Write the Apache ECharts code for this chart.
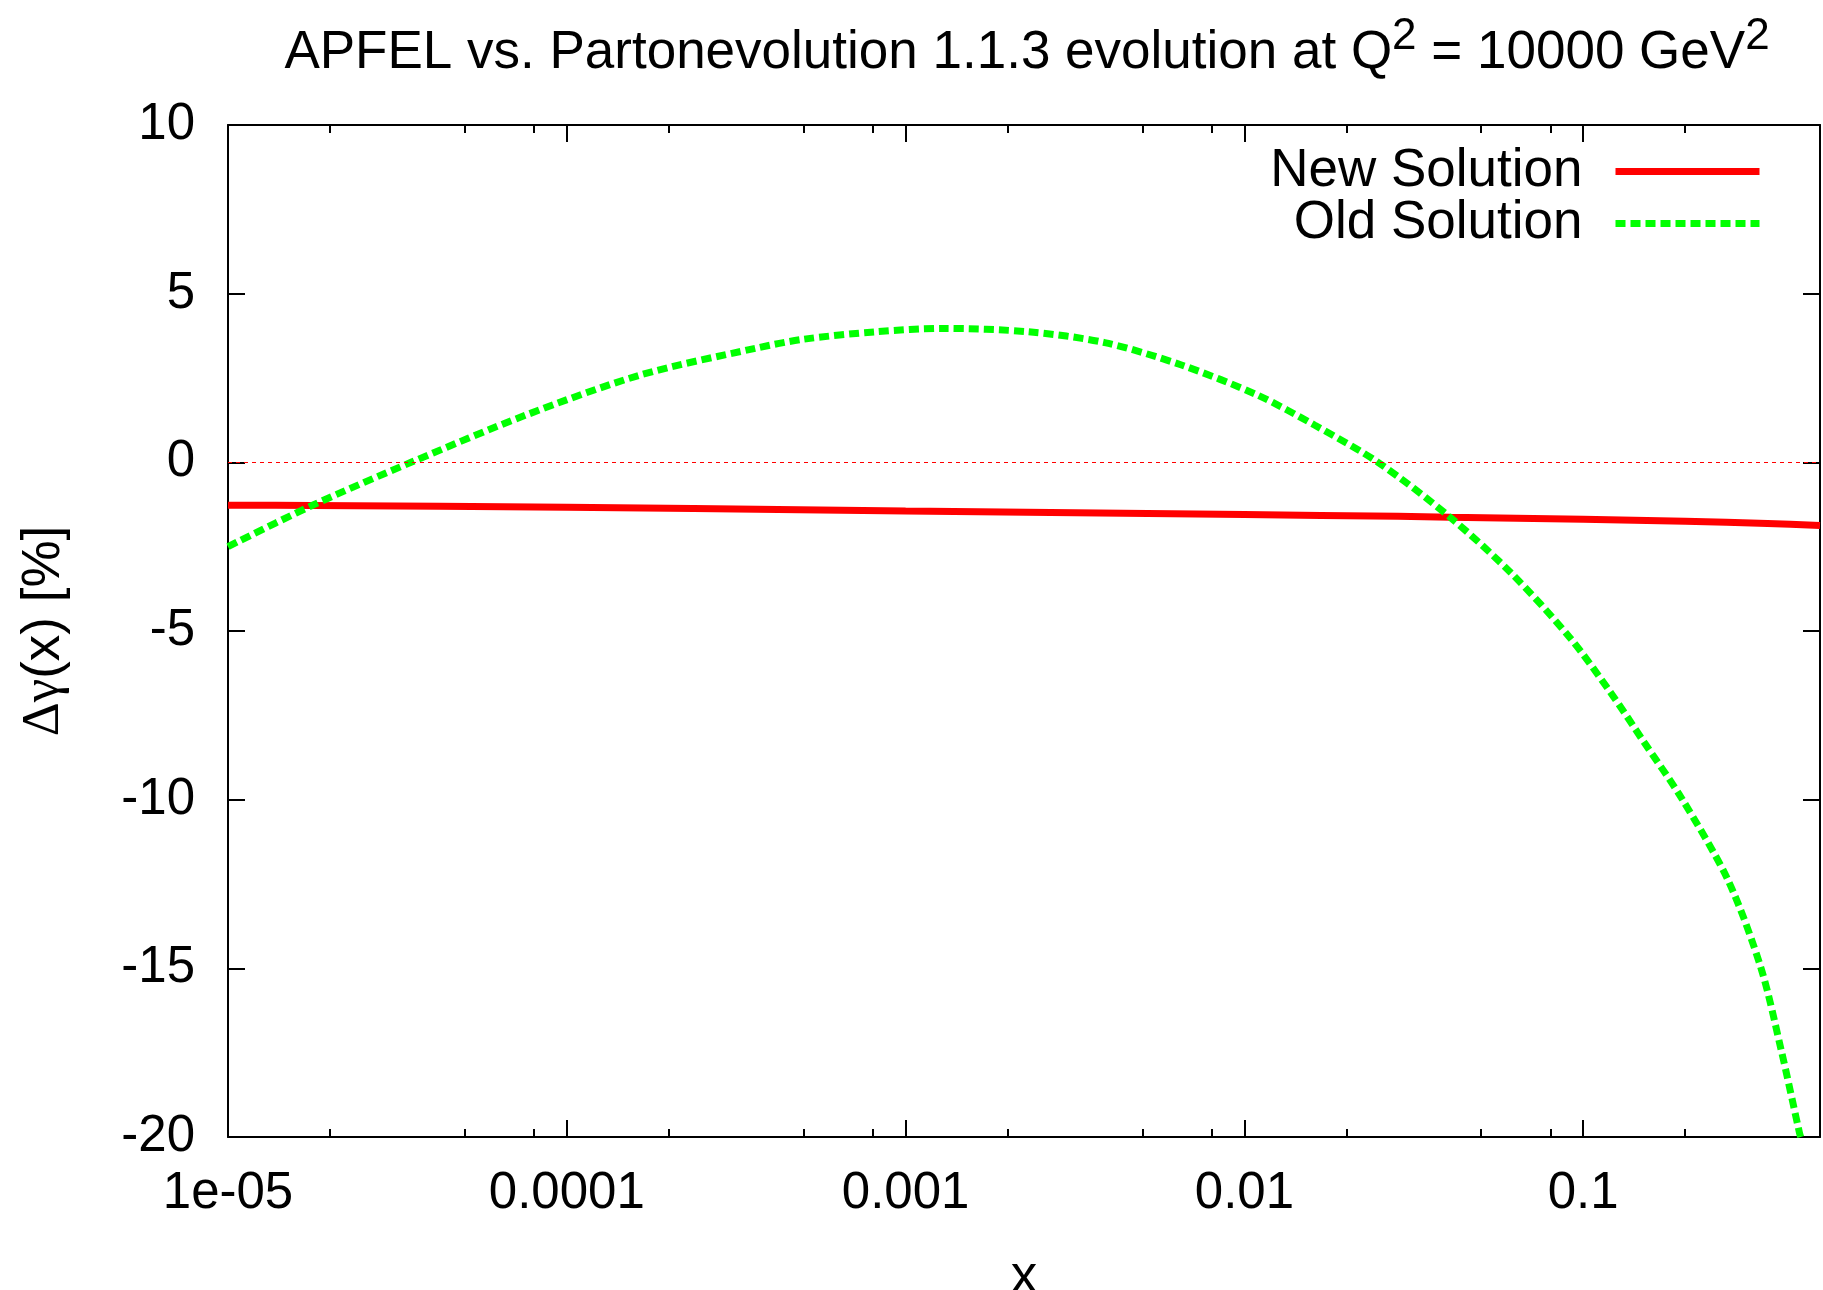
<!DOCTYPE html>
<html>
<head>
<meta charset="utf-8">
<title>APFEL vs. Partonevolution</title>
<script src="https://cdn.jsdelivr.net/npm/echarts@6/dist/echarts.min.js"></script>
<style>
  html, body { margin: 0; padding: 0; background: #ffffff; }
  #chart { width: 1823px; height: 1290px; }
</style>
</head>
<body>
<div id="chart"></div>
<script>
// Relative difference of the photon PDF, New vs. Old solution, at Q^2 = 10000 GeV^2
const xNew = [1e-5, 1.77e-5, 1e-4, 5.6e-4, 1e-3, 1e-2, 2.84e-2, 4.05e-2, 0.1, 0.2, 0.35, 0.5];
const yNew = [-1.27, -1.28, -1.33, -1.41, -1.44, -1.55, -1.60, -1.63, -1.69, -1.75, -1.81, -1.87];

const xOld = [1.0e-5, 1.77e-5, 3.47e-5, 7.57e-5, 1.65e-4, 3.60e-4, 5.0e-4, 8.15e-4, 1.30e-3,
              2.30e-3, 3.87e-3, 6.52e-3, 1.09e-2, 1.61e-2, 2.48e-2, 4.05e-2, 6.14e-2, 9.14e-2,
              0.121, 0.152, 0.195, 0.268, 0.335, 0.384, 0.435, 0.4385];
const yOld = [-2.50, -1.28, 0.00, 1.40, 2.59, 3.38, 3.65, 3.87, 3.97,
              3.87, 3.55, 2.885, 2.00, 1.106, 0.00, -1.63, -3.29, -5.20,
              -6.85, -8.33, -9.95, -12.40, -15.0, -17.42, -19.88, -20.0];

// Axis ticks
const xTickValues = [1e-5, 1e-4, 1e-3, 1e-2, 1e-1];
const xTickLabels = ['1e-05', '0.0001', '0.001', '0.01', '0.1'];
const xMinorTicks = [2e-5, 5e-5, 8e-5, 2e-4, 5e-4, 8e-4, 2e-3, 5e-3, 8e-3,
                     2e-2, 5e-2, 8e-2, 0.2];
const yMin = -20, yMax = 10, yStep = 5;
const xMin = 1e-5, xMax = 0.5;

const FONT = '"Liberation Sans", Arial, Helvetica, sans-serif';
const FS = 51;
const FS_BIG = 53;

function xLabel(v) {
  const i = xTickValues.findIndex(t => Math.abs(Math.log10(t) - Math.log10(v)) < 1e-6);
  return i >= 0 ? xTickLabels[i] : '';
}

function xAxisDef(position, major) {
  return {
    type: 'log', logBase: 10, min: xMin, max: xMax, position: position,
    axisLine: { show: major, onZero: false, lineStyle: { color: '#000', width: 2 } },
    axisTick: { show: true, inside: true, length: major ? 17 : 8,
                customValues: major ? xTickValues : xMinorTicks,
                lineStyle: { color: '#000', width: 2 } },
    axisLabel: { show: major && position === 'bottom', customValues: xTickValues,
                 formatter: xLabel, margin: 31, color: '#000', fontSize: FS, fontFamily: FONT },
    splitLine: { show: false }, minorTick: { show: false }
  };
}

function yAxisDef(position, labels) {
  return {
    type: 'value', min: yMin, max: yMax, interval: yStep, position: position,
    axisLine: { show: true, onZero: false, lineStyle: { color: '#000', width: 2 } },
    axisTick: { show: true, inside: true, length: 17, lineStyle: { color: '#000', width: 2 } },
    axisLabel: { show: labels, margin: 33, color: '#000', fontSize: FS, fontFamily: FONT },
    splitLine: { show: false }
  };
}

const chart = echarts.init(document.getElementById('chart'), null, { renderer: 'canvas' });

const xAxes = [xAxisDef('bottom', true), xAxisDef('top', true),
               xAxisDef('bottom', false), xAxisDef('top', false)];
xAxes[0].name = 'x';
xAxes[0].nameLocation = 'middle';
xAxes[0].nameGap = 114;
xAxes[0].nameTextStyle = { color: '#000', fontSize: FS_BIG, fontFamily: FONT };

const yAxes = [yAxisDef('left', true), yAxisDef('right', false)];
yAxes[0].name = '{g|Δγ}(x) [%]';
yAxes[0].nameLocation = 'middle';
yAxes[0].nameGap = 157;
yAxes[0].nameTextStyle = {
  color: '#000', fontSize: FS_BIG, fontFamily: FONT,
  rich: { g: { fontSize: FS_BIG, fontFamily: '"Liberation Serif", "DejaVu Serif", serif', color: '#000' } }
};

chart.setOption({
  backgroundColor: '#ffffff',
  animation: false,
  title: {
    text: 'APFEL vs. Partonevolution 1.1.3 evolution at Q{sup|2} = 10000 GeV{sup|2}',
    left: 1022, top: 10, textAlign: 'center',
    textStyle: {
      color: '#000', fontSize: FS_BIG, fontWeight: 'normal', fontFamily: FONT,
      rich: {
        sup: { fontSize: 44, fontFamily: FONT, color: '#000', padding: [0, 0, 32, 0] }
      }
    }
  },
  legend: {
    orient: 'vertical', right: 60, top: 145, padding: 0,
    align: 'right', itemWidth: 144, itemHeight: 7, itemGap: -1,
    selectedMode: false,
    lineStyle: { width: 7 },
    itemStyle: { opacity: 0 },
    textStyle: { color: '#000', fontSize: FS_BIG, fontFamily: FONT, padding: [0, 28, 0, 0] },
    data: ['New Solution', 'Old Solution']
  },
  grid: { left: 228, right: 3, top: 125, bottom: 153, containLabel: false, outerBoundsMode: 'none' },
  xAxis: xAxes,
  yAxis: yAxes,
  series: [
    {
      name: 'New Solution', type: 'line', xAxisIndex: 0, yAxisIndex: 0,
      symbol: 'none', smooth: 0.3, z: 3,
      lineStyle: { color: '#ff0000', width: 7 },
      itemStyle: { color: '#ff0000' },
      data: xNew.map((x, i) => [x, yNew[i]]),
      markLine: {
        silent: true, symbol: 'none', label: { show: false },
        lineStyle: { color: '#ff0000', width: 1, type: [4, 4] },
        data: [{ yAxis: 0 }]
      }
    },
    {
      name: 'Old Solution', type: 'line', xAxisIndex: 0, yAxisIndex: 0,
      symbol: 'none', smooth: 0.3, z: 4,
      lineStyle: { color: '#00ff00', width: 7, type: [10, 5] },
      itemStyle: { color: '#00ff00' },
      data: xOld.map((x, i) => [x, yOld[i]])
    }
  ]
});
</script>
</body>
</html>
